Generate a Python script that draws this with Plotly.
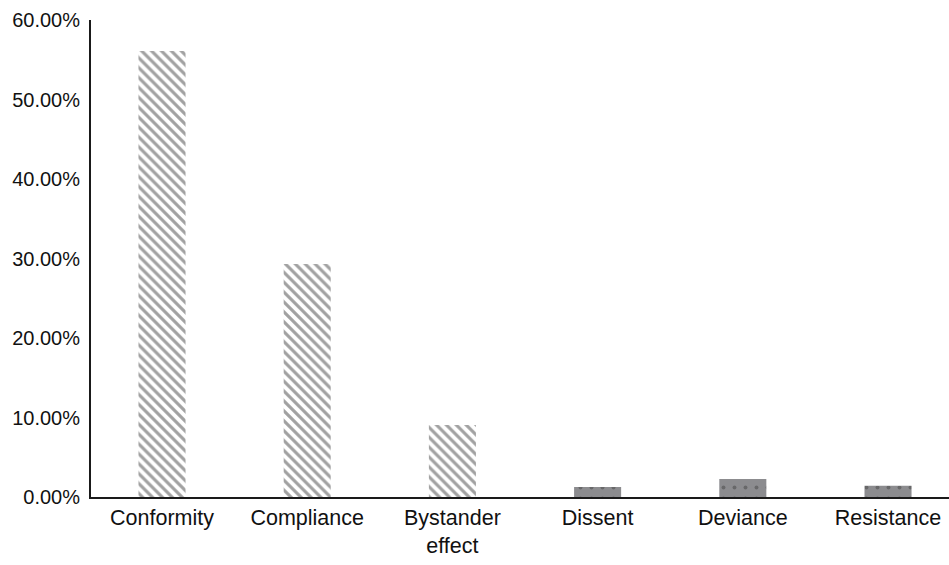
import plotly.graph_objects as go

categories = ["Conformity", "Compliance", "Bystander<br>effect", "Dissent", "Deviance", "Resistance"]
shares = [56.1, 29.3, 9.05, 1.25, 2.25, 1.4]
pattern_shapes = ["\\", "\\", "\\", ".", ".", "."]
pattern_fg = ["#a0a0a0", "#a0a0a0", "#a0a0a0", "#b9b9bb", "#b9b9bb", "#b9b9bb"]
bar_bg = ["white", "white", "white", "#8c8c8f", "#8c8c8f", "#8c8c8f"]
y_ticks = [0, 10, 20, 30, 40, 50, 60]
y_tick_text = ["0.00%", "10.00%", "20.00%", "30.00%", "40.00%", "50.00%", "60.00%"]

fig = go.Figure(
    go.Bar(
        x=list(range(len(categories))),
        y=shares,
        width=0.324,
        marker=dict(
            color=bar_bg,
            line=dict(width=0),
            pattern=dict(
                shape=pattern_shapes,
                fgcolor=pattern_fg,
                size=[7, 7, 7, 11, 11, 11],
                solidity=[0.45, 0.45, 0.45, 0.1, 0.1, 0.1],
                fillmode="overlay",
            ),
        ),
    )
)

fig.update_layout(
    width=949,
    height=565,
    margin=dict(l=91, r=0, t=20, b=68),
    plot_bgcolor="white",
    paper_bgcolor="white",
    showlegend=False,
    font=dict(family="Liberation Sans, Arial, sans-serif", size=20, color="#111111"),
    xaxis=dict(
        range=[-0.489, 5.42],
        tickmode="array",
        tickvals=list(range(len(categories))),
        ticktext=categories,
        showgrid=False,
        zeroline=False,
        showline=True,
        linecolor="#1a1a1a",
        linewidth=2,
        ticks="",
        tickfont=dict(size=21.5),
    ),
    yaxis=dict(
        range=[0, 60],
        tickmode="array",
        tickvals=y_ticks,
        ticktext=y_tick_text,
        showgrid=False,
        zeroline=False,
        showline=True,
        linecolor="#1a1a1a",
        linewidth=2,
        ticks="",
        ticklabelstandoff=5,
        tickfont=dict(size=20),
    ),
)

fig.write_html("out.html")
